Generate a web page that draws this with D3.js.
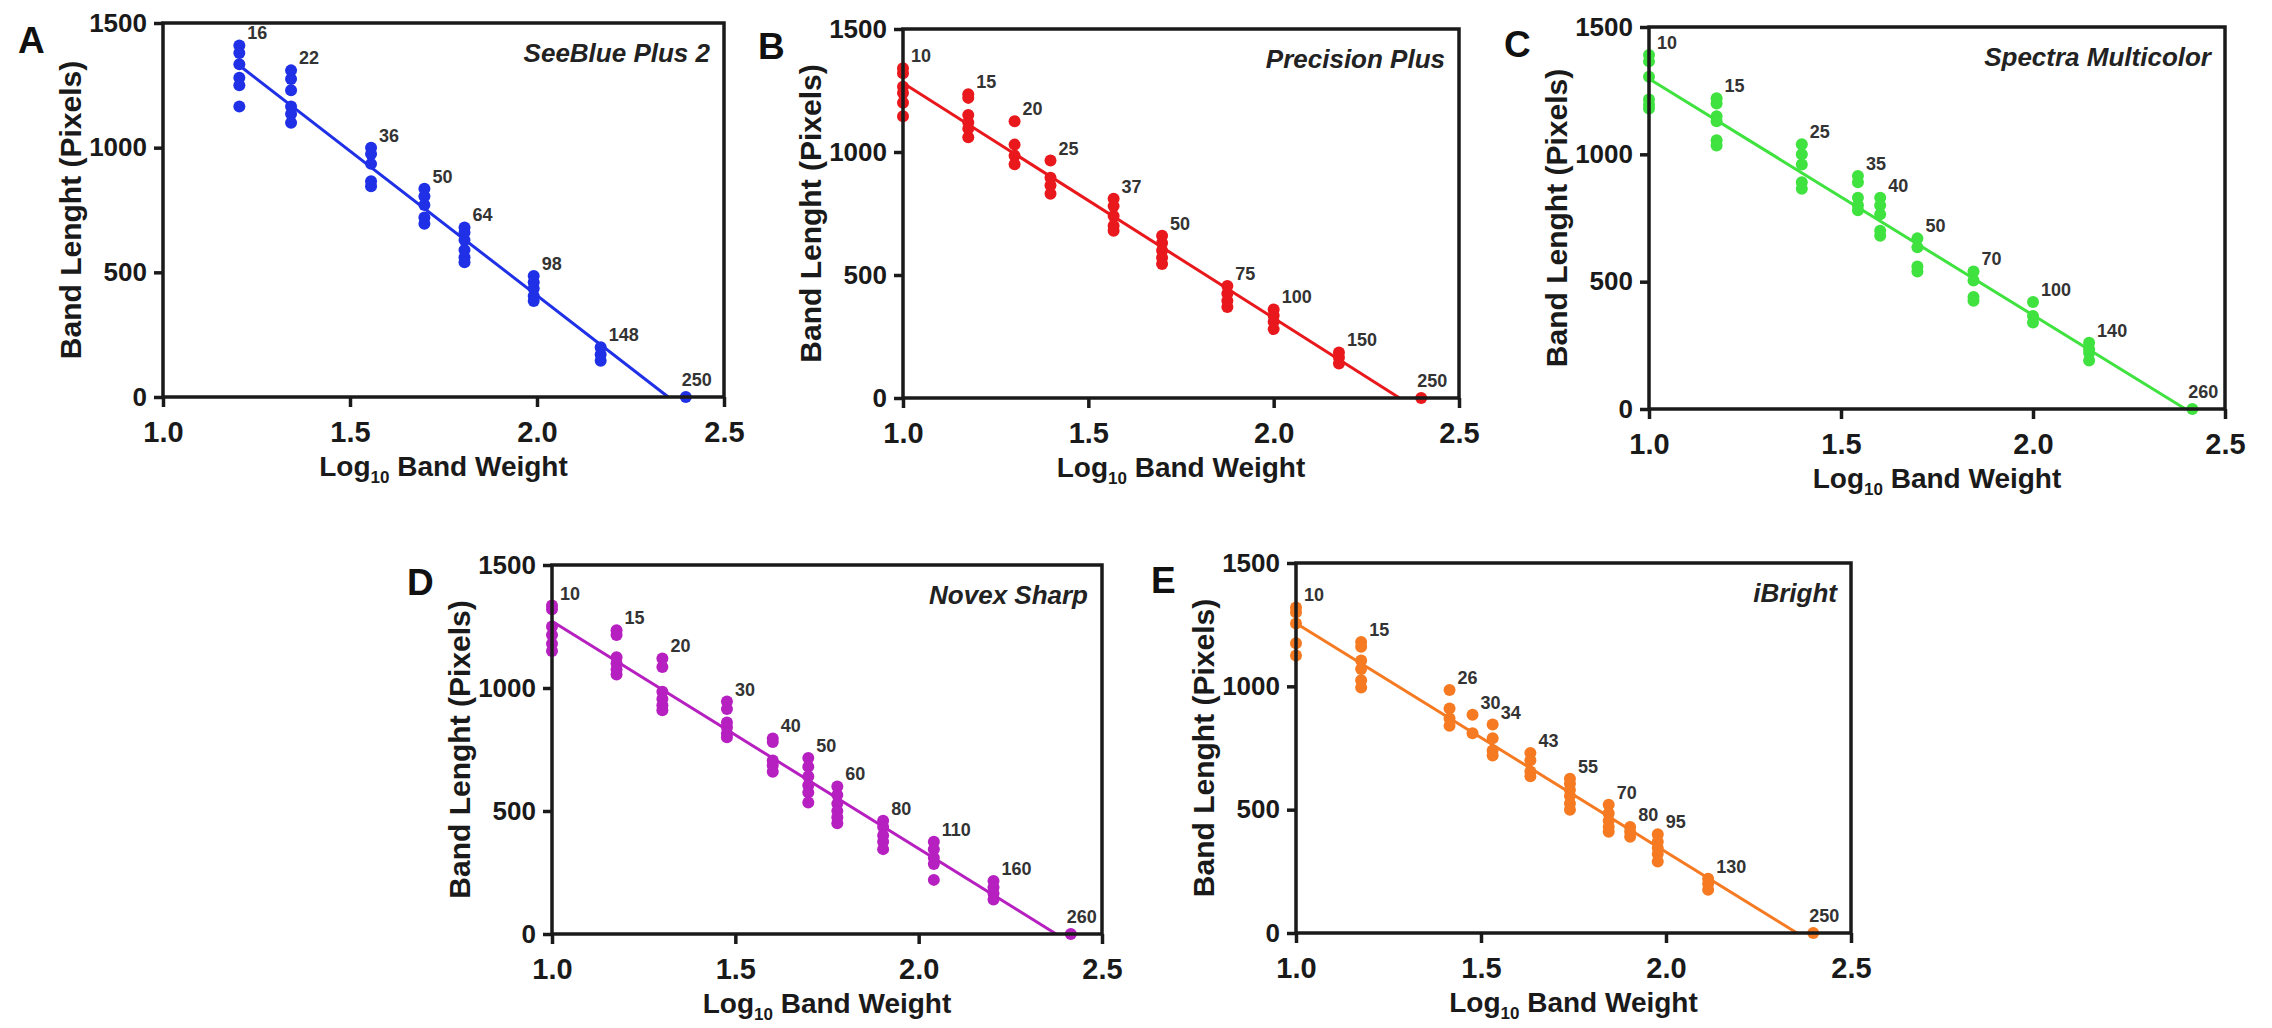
<!DOCTYPE html>
<html>
<head>
<meta charset="utf-8">
<script src="https://cdn.jsdelivr.net/npm/d3@7"></script>
<style>
    body {
        margin: 0;
        background: #ffffff;
    }
    svg {
        display: block;
        font-family: "Liberation Sans", Arial, sans-serif;
    }
    .frame {
        fill: none;
        stroke: #1a1a1a;
        stroke-width: 3.5;
    }
    .axis line {
        stroke: #1a1a1a;
        stroke-width: 3.5;
    }
    .axis text {
        font-weight: bold;
        fill: #1a1a1a;
    }
    .title {
        font-weight: bold;
        fill: #1a1a1a;
    }
    .letter {
        font-size: 37px;
        font-weight: bold;
        fill: #111111;
    }
    .name {
        font-size: 26px;
        font-weight: bold;
        font-style: italic;
        fill: #222222;
    }
    .band {
        font-size: 18px;
        font-weight: bold;
        fill: #333333;
    }
    .fit {
        fill: none;
        stroke-width: 3;
    }
</style>
</head>
<body>
<svg id="figure" width="2272" height="1028"></svg>
<script>
// band weights (kDa) and measured band lengths (pixels), one list per replicate group
const seeBlueWeights = [16, 22, 36, 50, 64, 98, 148, 250];
const seeBlueLengths = [
    [1410, 1380, 1335, 1280, 1250, 1165],
    [1310, 1275, 1230, 1165, 1135, 1100],
    [1000, 975, 935, 865, 845],
    [835, 805, 770, 720, 695],
    [680, 660, 630, 590, 560, 540],
    [485, 460, 435, 405, 385],
    [200, 170, 145],
    [0]
];

const precisionWeights = [10, 15, 20, 25, 37, 50, 75, 100, 150, 250];
const precisionLengths = [
    [1340, 1320, 1265, 1240, 1200, 1145],
    [1235, 1220, 1150, 1120, 1095, 1060],
    [1125, 1030, 985, 950],
    [965, 895, 865, 830],
    [810, 780, 740, 700, 680],
    [660, 630, 600, 570, 545],
    [455, 425, 395, 370],
    [360, 335, 310, 280],
    [185, 165, 140],
    [0]
];

const spectraWeights = [10, 15, 25, 35, 40, 50, 70, 100, 140, 260];
const spectraLengths = [
    [1390, 1365, 1305, 1215, 1195, 1180],
    [1220, 1200, 1150, 1130, 1055, 1035],
    [1040, 1000, 960, 890, 865],
    [915, 890, 830, 800, 780],
    [830, 800, 765, 700, 680],
    [670, 635, 560, 540],
    [540, 505, 440, 425],
    [420, 365, 340],
    [260, 235, 220, 190],
    [0]
];

const novexWeights = [10, 15, 20, 30, 40, 50, 60, 80, 110, 160, 260];
const novexLengths = [
    [1335, 1320, 1250, 1215, 1180, 1150],
    [1235, 1215, 1125, 1100, 1075, 1055],
    [1120, 1085, 985, 955, 930, 910],
    [945, 915, 860, 840, 815, 800],
    [795, 780, 705, 685, 660],
    [715, 680, 640, 605, 575, 535],
    [600, 565, 530, 500, 475, 450],
    [460, 435, 400, 375, 345],
    [375, 345, 310, 285, 220],
    [215, 190, 165, 140],
    [0]
];

const iBrightWeights = [10, 15, 26, 30, 34, 43, 55, 70, 80, 95, 130, 250];
const iBrightLengths = [
    [1320, 1300, 1255, 1175, 1125],
    [1180, 1160, 1105, 1070, 1025, 995],
    [985, 910, 870, 840],
    [885, 810],
    [845, 790, 740, 720],
    [730, 700, 655, 635],
    [625, 605, 580, 555, 525, 500],
    [520, 485, 455, 430, 410],
    [430, 410, 390],
    [400, 370, 345, 320, 290],
    [220, 200, 175],
    [0]
];

const xTicks = [1.0, 1.5, 2.0, 2.5];
const yTicks = [0, 500, 1000, 1500];

const attr = {
    r: 6,
    xDomain: [1, 2.5],
    yDomain: [0, 1500]
};

const panels = [
    {
        letter: "A",
        name: "SeeBlue Plus 2",
        weights: seeBlueWeights,
        lengths: seeBlueLengths,
        color: "#1f30e6",
        box: { left: 163, right: 724, top: 23, bottom: 397 }
    },
    {
        letter: "B",
        name: "Precision Plus",
        weights: precisionWeights,
        lengths: precisionLengths,
        color: "#e8181c",
        box: { left: 903, right: 1459, top: 29, bottom: 398 }
    },
    {
        letter: "C",
        name: "Spectra Multicolor",
        weights: spectraWeights,
        lengths: spectraLengths,
        color: "#3fe23f",
        box: { left: 1649, right: 2225, top: 27, bottom: 409 }
    },
    {
        letter: "D",
        name: "Novex Sharp",
        weights: novexWeights,
        lengths: novexLengths,
        color: "#b61fc0",
        box: { left: 552, right: 1102, top: 565, bottom: 934 }
    },
    {
        letter: "E",
        name: "iBright",
        weights: iBrightWeights,
        lengths: iBrightLengths,
        color: "#f57a22",
        box: { left: 1296, right: 1851, top: 563, bottom: 933 }
    }
];

const translate = function(a, b) {
    return "translate(" + a + ", " + b + ")";
};

const toPoints = function(panel) {
    let points = [];
    panel.weights.forEach(function(w, i) {
        panel.lengths[i].forEach(function(v) {
            points.push({ x: Math.log10(w), y: v });
        });
    });
    return points;
};

// least squares line through all bands
const fitLine = function(points) {
    let mx = d3.mean(points, p => p.x);
    let my = d3.mean(points, p => p.y);
    let sxy = d3.sum(points, p => (p.x - mx) * (p.y - my));
    let sxx = d3.sum(points, p => (p.x - mx) * (p.x - mx));
    let slope = sxy / sxx;
    return { slope: slope, intercept: my - slope * mx };
};

const drawAxes = function(g, x, y, box) {
    g.append("g")
        .attr("class", "axis")
        .attr("transform", translate(0, box.bottom))
        .call(
            d3
                .axisBottom(x)
                .tickValues(xTicks)
                .tickFormat(d3.format(".1f"))
                .tickSizeInner(10)
                .tickSizeOuter(0)
                .tickPadding(14)
        )
        .call(a => a.select(".domain").remove())
        .selectAll("text")
        .style("font-size", "29px");

    g.append("g")
        .attr("class", "axis")
        .attr("transform", translate(box.left, 0))
        .call(
            d3
                .axisLeft(y)
                .tickValues(yTicks)
                .tickFormat(d3.format("d"))
                .tickSizeInner(9)
                .tickSizeOuter(0)
                .tickPadding(7)
        )
        .call(a => a.select(".domain").remove())
        .selectAll("text")
        .style("font-size", "26px");

    g.append("rect")
        .attr("class", "frame")
        .attr("x", box.left)
        .attr("y", box.top)
        .attr("width", box.right - box.left)
        .attr("height", box.bottom - box.top);
};

const drawTitles = function(g, panel) {
    let box = panel.box;
    let cx = (box.left + box.right) / 2;
    let cy = (box.top + box.bottom) / 2;

    g.append("text")
        .attr("class", "title")
        .attr("transform", translate(box.left - 82, cy) + " rotate(-90)")
        .attr("text-anchor", "middle")
        .style("font-size", "30px")
        .text("Band Lenght (Pixels)");

    let xt = g
        .append("text")
        .attr("class", "title")
        .attr("x", cx)
        .attr("y", box.bottom + 79)
        .attr("text-anchor", "middle")
        .style("font-size", "28px");
    xt.append("tspan").text("Log");
    xt.append("tspan")
        .attr("dy", 7)
        .style("font-size", "17px")
        .text("10");
    xt.append("tspan")
        .attr("dy", -7)
        .text(" Band Weight");

    g.append("text")
        .attr("class", "letter")
        .attr("x", box.left - 145)
        .attr("y", box.top + 30)
        .text(panel.letter);

    g.append("text")
        .attr("class", "name")
        .attr("x", box.right - 14)
        .attr("y", box.top + 39)
        .attr("text-anchor", "end")
        .text(panel.name);
};

const drawPanel = function(svg, panel) {
    let box = panel.box;
    let x = d3
        .scaleLinear()
        .domain(attr.xDomain)
        .range([box.left, box.right]);
    let y = d3
        .scaleLinear()
        .domain(attr.yDomain)
        .range([box.bottom, box.top]);

    let g = svg.append("g").attr("class", "panel");
    let points = toPoints(panel);
    let fit = fitLine(points);

    let x0 = d3.min(points, p => p.x);
    let x1 = -fit.intercept / fit.slope;
    let linePts = [
        { x: x0, y: fit.intercept + fit.slope * x0 },
        { x: x1, y: 0 }
    ];

    g.append("path")
        .datum(linePts)
        .attr("class", "fit")
        .attr("stroke", panel.color)
        .attr(
            "d",
            d3
                .line()
                .x(d => x(d.x))
                .y(d => y(d.y))
        );

    g.append("g")
        .selectAll("circle")
        .data(points)
        .enter()
        .append("circle")
        .attr("cx", d => x(d.x))
        .attr("cy", d => y(d.y))
        .attr("r", attr.r)
        .style("fill", panel.color);

    // weight labels next to the top band of each group
    let last = panel.weights.length - 1;
    g.append("g")
        .selectAll("text")
        .data(panel.weights)
        .enter()
        .append("text")
        .attr("class", "band")
        .attr("x", (d, i) => x(Math.log10(d)) + (i === last ? -4 : 8))
        .attr("y", (d, i) => y(d3.max(panel.lengths[i])) - (i === last ? 11 : 6))
        .text(d => d);

    drawAxes(g, x, y, box);
    drawTitles(g, panel);
};

let svg = d3.select("#figure");
panels.forEach(function(panel) {
    drawPanel(svg, panel);
});
</script>
</body>
</html>
